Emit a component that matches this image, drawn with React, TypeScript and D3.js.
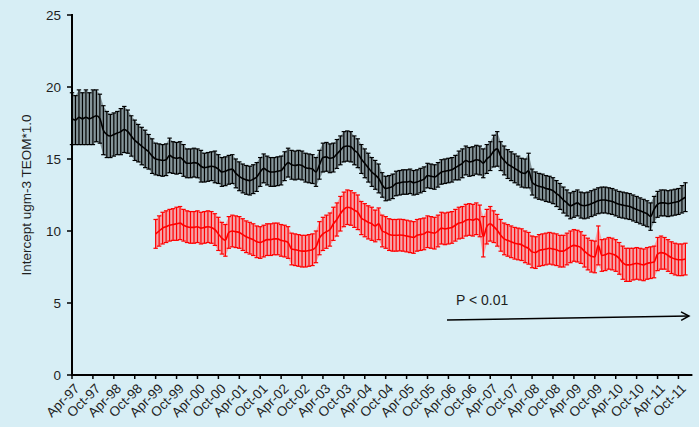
import React from "react";
import * as d3 from "d3";

const tickLabels = [
  "Apr-97","Oct-97","Apr-98","Oct-98","Apr-99","Oct-99","Apr-00","Oct-00","Apr-01","Oct-01",
  "Apr-02","Oct-02","Apr-03","Oct-03","Apr-04","Oct-04","Apr-05","Oct-05","Apr-06","Oct-06",
  "Apr-07","Oct-07","Apr-08","Oct-08","Apr-09","Oct-09","Apr-10","Oct-10","Apr-11","Oct-11",
];
const yTicks = [0, 5, 10, 15, 20, 25];

// black series: monthly from Apr-97 (index 0)
const blackMean = [
  17.8,17.7,17.9,17.8,17.9,17.8,17.9,18.0,17.8,17.0,
  16.7,16.6,16.7,16.8,16.9,17.05,16.9,16.6,16.3,16.1,
  15.9,15.7,15.5,15.2,15.0,14.95,14.9,14.95,15.25,15.1,
  15.05,15.1,14.9,14.7,14.7,14.75,14.7,14.5,14.4,14.45,
  14.5,14.45,14.3,14.1,14.15,14.25,14.3,14.0,13.8,13.65,
  13.55,13.5,13.6,13.75,14.1,14.35,14.2,14.1,14.1,14.15,
  14.2,14.5,14.75,14.6,14.55,14.6,14.55,14.4,14.35,14.3,
  14.1,14.6,15.1,15.15,15.05,15.1,15.35,15.6,15.85,15.9,
  15.85,15.6,15.4,15.0,14.7,14.4,14.1,13.9,13.65,13.2,
  12.95,13.0,13.1,13.3,13.35,13.4,13.4,13.45,13.35,13.4,
  13.5,13.6,13.85,13.8,13.75,13.9,14.1,14.15,14.2,14.25,
  14.4,14.55,14.7,14.9,14.8,14.85,14.95,14.9,14.7,15.0,
  15.2,15.55,15.7,15.2,14.9,14.65,14.5,14.35,14.2,14.05,
  14.0,14.2,13.4,13.2,13.1,13.05,12.95,12.9,12.8,12.6,
  12.4,12.15,11.95,11.75,11.85,11.95,11.8,11.75,11.8,11.9,
  12.0,12.1,12.15,12.15,12.1,12.05,11.95,11.85,11.8,11.75,
  11.7,11.6,11.5,11.4,11.3,11.2,11.0,11.5,11.85,11.95,
  11.95,11.9,11.95,12.0,12.05,12.2,12.35,
];
const blackErr = [
  1.8,1.7,1.9,1.8,1.9,1.8,1.9,1.8,1.7,1.7,
  1.6,1.5,1.5,1.5,1.6,1.6,1.5,1.4,1.4,1.3,
  1.3,1.3,1.2,1.2,1.1,1.1,1.1,1.1,1.2,1.1,
  1.1,1.1,1.1,1.0,1.0,1.0,1.0,1.1,1.0,1.0,
  1.0,1.1,1.0,1.0,1.0,1.0,1.0,1.0,1.0,1.0,
  1.0,1.0,1.0,1.0,1.0,1.0,1.0,1.0,1.0,1.0,
  1.0,1.0,1.0,1.0,1.0,1.0,1.0,1.0,1.0,1.0,
  1.0,1.0,1.0,1.0,1.0,1.0,1.0,1.0,1.05,1.05,
  1.05,1.0,1.0,1.0,1.0,1.0,1.0,1.0,1.0,0.85,
  0.85,0.85,0.85,0.85,0.85,0.85,0.85,0.85,0.85,0.85,
  0.85,0.85,0.85,0.85,0.85,0.85,0.85,0.85,0.85,0.85,
  0.85,1.0,1.0,1.0,1.0,1.0,1.0,1.0,1.0,1.0,
  1.0,1.1,1.2,1.0,1.0,1.0,1.0,1.0,1.0,1.0,
  1.0,1.2,0.9,0.9,0.9,0.9,0.9,0.9,0.9,0.9,
  0.9,0.9,0.9,0.9,0.9,0.9,0.9,0.9,0.9,0.9,
  0.9,0.9,0.9,0.9,0.9,0.9,0.9,0.9,0.9,0.9,
  0.9,0.9,0.9,0.9,0.9,0.9,0.95,0.9,0.9,0.9,
  0.9,0.9,0.9,0.9,0.9,0.95,1.0,
];
// red series: monthly from Apr-99 (index 24)
const redStart = 24;
const redMean = [
  9.8,10.0,10.2,10.3,10.4,10.45,10.5,10.55,10.4,10.3,
  10.25,10.25,10.3,10.2,10.25,10.3,10.25,10.1,9.8,9.5,
  9.35,9.9,10.0,9.95,9.9,9.75,9.6,9.5,9.4,9.25,
  9.2,9.3,9.4,9.4,9.45,9.45,9.35,9.3,9.2,8.75,
  8.7,8.65,8.6,8.6,8.65,8.7,8.9,9.5,9.8,9.95,
  10.1,10.5,10.8,11.2,11.5,11.65,11.6,11.45,11.3,10.9,
  10.75,10.6,10.5,10.35,10.5,10.0,9.9,9.75,9.7,9.7,
  9.72,9.7,9.65,9.6,9.55,9.7,9.75,9.8,9.95,9.9,
  9.85,10.0,10.2,10.15,10.2,10.25,10.4,10.55,10.6,10.75,
  10.8,10.75,10.85,10.7,9.6,10.3,10.5,10.3,10.05,9.7,
  9.45,9.35,9.25,9.15,9.1,9.05,8.9,8.8,8.55,8.5,
  8.65,8.7,8.75,8.8,8.75,8.7,8.6,8.6,8.75,8.9,
  9.0,8.95,8.85,8.6,8.4,8.25,8.2,9.0,8.3,8.35,
  8.45,8.4,8.3,8.1,7.8,7.65,7.65,7.7,7.75,7.7,
  7.65,7.75,7.8,7.85,8.4,8.5,8.45,8.3,8.15,8.05,
  8.0,8.0,8.05,
];
const redErr = [
  1.0,1.05,1.1,1.1,1.1,1.1,1.15,1.15,1.1,1.1,
  1.1,1.1,1.1,1.1,1.1,1.1,1.1,1.1,1.15,1.1,
  1.1,1.1,1.1,1.1,1.1,1.1,1.1,1.1,1.1,1.1,
  1.1,1.1,1.1,1.1,1.1,1.1,1.1,1.1,1.1,1.1,
  1.1,1.1,1.1,1.1,1.1,1.1,1.1,1.15,1.15,1.15,
  1.15,1.15,1.15,1.2,1.2,1.2,1.2,1.2,1.2,1.15,
  1.15,1.15,1.15,1.1,1.1,1.1,1.1,1.1,1.1,1.1,
  1.1,1.1,1.1,1.1,1.1,1.1,1.1,1.1,1.1,1.1,
  1.1,1.1,1.1,1.1,1.1,1.1,1.1,1.1,1.1,1.1,
  1.1,1.1,1.1,1.1,1.4,1.2,1.2,1.1,1.1,1.1,
  1.1,1.1,1.1,1.1,1.1,1.1,1.1,1.1,1.1,1.1,
  1.1,1.1,1.1,1.1,1.1,1.1,1.1,1.1,1.1,1.1,
  1.1,1.1,1.1,1.1,1.1,1.1,1.1,1.35,1.1,1.1,
  1.1,1.1,1.1,1.1,1.15,1.15,1.15,1.1,1.1,1.1,
  1.1,1.1,1.1,1.1,1.15,1.15,1.1,1.1,1.1,1.1,
  1.1,1.1,1.1,
];

const W = 699;
const H = 427;
const FONT = "'Liberation Sans', Arial, sans-serif";

export default function App() {
  const x = d3.scaleLinear().domain([0, 178]).range([72, 692.4]);
  const y = d3.scaleLinear().domain([0, 25]).range([375, 15]);

  const black = blackMean.map((m, i) => ({ i, m, e: blackErr[i] }));
  const red = redMean.map((m, k) => ({ i: k + redStart, m, e: redErr[k] }));

  const line = d3
    .line<{ i: number; m: number }>()
    .x((d) => x(d.i))
    .y((d) => y(d.m))
    .curve(d3.curveMonotoneX);
  const band = d3
    .area<{ i: number; m: number; e: number }>()
    .x((d) => x(d.i))
    .y0((d) => y(d.m - d.e))
    .y1((d) => y(d.m + d.e));

  const cap = 2.2;
  const renderSeries = (
    data: { i: number; m: number; e: number }[],
    color: string,
    fill: string,
    key: string
  ) => (
    <g key={key}>
      <path d={band(data) || ""} fill={fill} stroke="none" />
      {data.map((d) => {
        const cx = x(d.i);
        const yt = y(d.m + d.e);
        const yb = y(d.m - d.e);
        return (
          <g key={d.i} stroke={color} strokeWidth={1.2}>
            <line x1={cx} x2={cx} y1={yt} y2={yb} />
            <line x1={cx - cap} x2={cx + cap} y1={yt} y2={yt} />
            <line x1={cx - cap} x2={cx + cap} y1={yb} y2={yb} />
          </g>
        );
      })}
      <path d={line(data) || ""} fill="none" stroke={color} strokeWidth={1.6} />
    </g>
  );

  const ax0 = 447, ay0 = 320, ax1 = 689, ay1 = 316;
  const ang = Math.atan2(ay1 - ay0, ax1 - ax0);
  const hl = 9;
  const h1 = [ax1 - hl * Math.cos(ang - 0.5), ay1 - hl * Math.sin(ang - 0.5)];
  const h2 = [ax1 - hl * Math.cos(ang + 0.5), ay1 - hl * Math.sin(ang + 0.5)];

  return (
    <svg
      width={W}
      height={H}
      style={{ position: "absolute", left: 0, top: 0, display: "block" }}
      fontFamily={FONT}
    >
      <rect x={0} y={0} width={W} height={H} fill="#d7eef5" />

      {renderSeries(black, "#000000", "#85959a", "black")}
      {renderSeries(red, "#ff0000", "#f5a3a8", "red")}

      {/* axes */}
      <line x1={72} x2={72} y1={14} y2={376} stroke="#000" strokeWidth={2} />
      <line x1={71} x2={692.4} y1={375} y2={375} stroke="#000" strokeWidth={2} />
      {yTicks.map((t) => (
        <g key={t}>
          <line x1={67} x2={72} y1={y(t)} y2={y(t)} stroke="#000" strokeWidth={1.5} />
          <text x={61} y={y(t)} dy="0.35em" textAnchor="end" fontSize={13.5} fill="#1e1e1e">
            {t}
          </text>
        </g>
      ))}
      {tickLabels.map((lab, k) => {
        const tx = x(k * 6);
        return (
          <g key={lab}>
            <line x1={tx} x2={tx} y1={375} y2={379} stroke="#000" strokeWidth={1.5} />
            <text
              transform={`translate(${tx + 5},${386}) rotate(-45)`}
              textAnchor="end"
              dy="0.35em"
              fontSize={13.5}
              fill="#1e1e1e"
            >
              {lab}
            </text>
          </g>
        );
      })}

      <text
        transform={`translate(31,${195}) rotate(-90)`}
        textAnchor="middle"
        fontSize={13.5}
        fill="#1e1e1e"
      >
        Intercept ugm-3 TEOM*1.0
      </text>

      <text x={456} y={305} fontSize={14} fill="#1e1e1e">
        P &lt; 0.01
      </text>
      <g stroke="#000" strokeWidth={1.5} fill="none">
        <line x1={ax0} y1={ay0} x2={ax1} y2={ay1} />
        <polyline points={`${h1[0]},${h1[1]} ${ax1},${ay1} ${h2[0]},${h2[1]}`} />
      </g>
    </svg>
  );
}
